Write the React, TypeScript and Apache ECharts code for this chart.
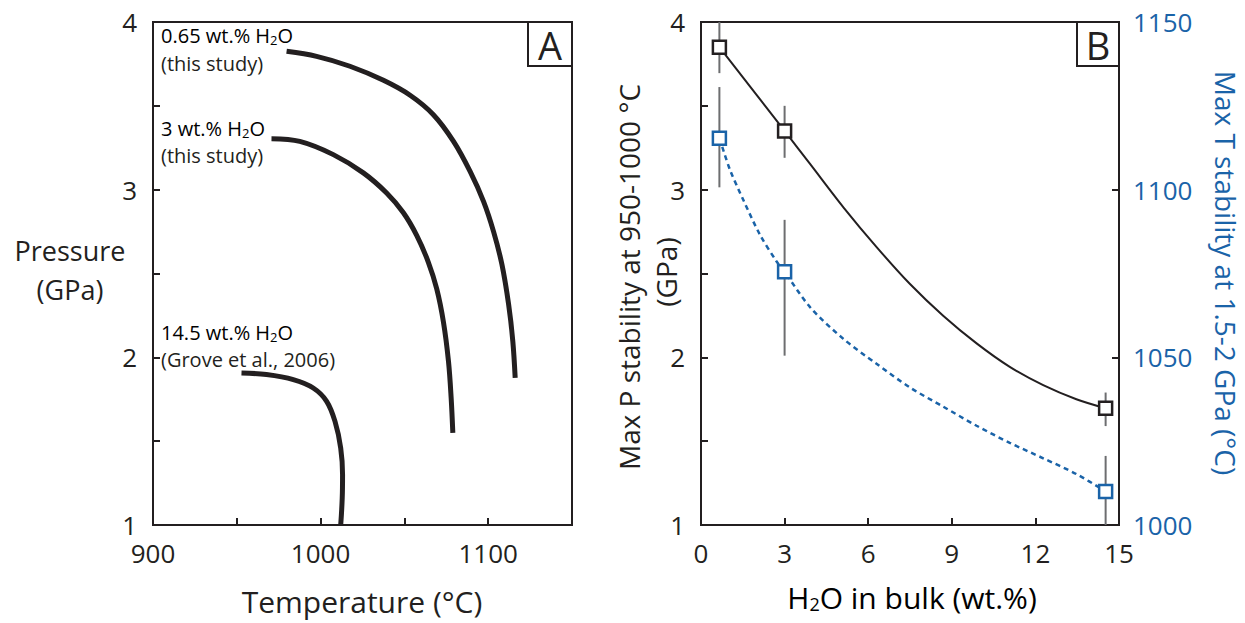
import React, { useEffect, useRef } from "react";
import * as echarts from "echarts";

const FONT = "Open Sans";
const INK = "#231f20";
const BLUE = "#1a63a8";
const GRAY = "#6d6e70";

// Panel A: phase boundary curves (Temperature °C, Pressure GPa)
const curve065: [number, number][] = [
  [979.7, 3.825], [997.6, 3.795], [1017.5, 3.736], [1037.5, 3.652], [1053.4, 3.563],
  [1067.3, 3.447], [1079.3, 3.288], [1089.2, 3.109], [1097.2, 2.93], [1103.2, 2.75],
  [1108.2, 2.553], [1112.2, 2.314], [1114.7, 2.095], [1116.1, 1.877],
];
const curve3: [number, number][] = [
  [970.7, 3.304], [987.6, 3.288], [1007.6, 3.209], [1025.5, 3.1], [1039.4, 2.98],
  [1049.4, 2.862], [1057.4, 2.726], [1064.3, 2.567], [1069.3, 2.408], [1073.3, 2.21],
  [1076.3, 1.976], [1077.9, 1.757], [1078.9, 1.549],
];
const curve145: [number, number][] = [
  [952.8, 1.907], [967.7, 1.897], [983.7, 1.867], [995.6, 1.817], [1003.6, 1.738],
  [1008.6, 1.618], [1012, 1.459], [1013.1, 1.3], [1012.9, 1.161], [1012, 1.0],
];

// Panel B: measured points
const waterContent = [0.66, 3, 14.52];
const maxP = [3.85, 3.35, 1.696];
const maxPLow = [3.695, 3.19, 1.59];
const maxPHigh = [4.0, 3.5, 1.79];
const maxT = [1115.3, 1075.5, 1010];
const maxTLow = [1100.7, 1050.5, 1000];
const maxTHigh = [1130.6, 1091, 1020.6];

// Panel B: fitted trend lines
const fitP: [number, number][] = [
  [0.66, 3.85], [3, 3.35], [3.92, 3.152], [5.11, 2.895], [6.31, 2.656],
  [7.5, 2.437], [8.69, 2.248], [9.89, 2.083], [11.08, 1.943], [12.28, 1.834],
  [13.47, 1.75], [14.52, 1.696],
];
const fitT: [number, number][] = [
  [0.66, 1115.3], [0.8, 1111.8], [1.04, 1105.9], [1.52, 1096.9], [2.12, 1086.5],
  [2.72, 1078.5], [3, 1075.5], [3.92, 1064.9], [5.11, 1055.5], [6.31, 1048],
  [7.5, 1041], [8.69, 1035.3], [9.89, 1029.6], [11.08, 1024.5], [12.28, 1019.9],
  [13.47, 1015.2], [14.52, 1010],
];

const xTicksA = [900, 1000, 1100];

export default function App() {
  const ref = useRef<HTMLDivElement>(null);
  useEffect(() => {
    if (!ref.current) return;
    const chart = echarts.init(ref.current, null, { renderer: "svg" });

    const axisLine = { show: true, lineStyle: { color: INK, width: 2 } };
    const tick = { show: true, inside: true, length: 7, lineStyle: { color: INK, width: 2 } };
    const lbl = { color: INK, fontFamily: FONT, fontSize: 26 };

    const errRender = (color: string) => (params: any, api: any) => {
      const x = api.value(0);
      const p1 = api.coord([x, api.value(1)]);
      const p2 = api.coord([x, api.value(2)]);
      return {
        type: "line",
        shape: { x1: p1[0], y1: p1[1], x2: p2[0], y2: p2[1] },
        style: { stroke: color, lineWidth: 2 },
      };
    };

    const richA = {
      a: { fontFamily: FONT, fontSize: 20, color: INK, lineHeight: 22 },
      s: { fontFamily: FONT, fontSize: 13, color: INK, lineHeight: 10, verticalAlign: "bottom" },
    };
    const annot = (prefix: string, second: string, y1: number, y2: number) => [
      { type: "text", x: 161, y: y1, style: { text: `{a|${prefix} H}{s|2}{a|O}`, rich: richA, verticalAlign: "middle" }, z: 10 },
      { type: "text", x: 161, y: y2, style: { text: second, fontFamily: FONT, fontSize: 20, fill: INK, verticalAlign: "middle" }, z: 10 },
    ];

    const option: any = {
      animation: false,
      backgroundColor: "#ffffff",
      grid: [
        { left: 153, top: 22, width: 419, height: 503, show: true, borderColor: INK, borderWidth: 2, backgroundColor: "transparent" },
        { left: 701, top: 22, width: 418, height: 503, show: true, borderColor: INK, borderWidth: 2, backgroundColor: "transparent" },
      ],
      xAxis: [
        {
          gridIndex: 0, type: "value", min: 900, max: 1150, interval: 50,
          axisLine, axisTick: tick, splitLine: { show: false },
          axisLabel: { ...lbl, margin: 17, lineHeight: 22, formatter: (v: number) => (xTicksA.includes(v) ? String(v) : "") },
        },
        {
          gridIndex: 1, type: "value", min: 0, max: 15, interval: 3,
          axisLine, axisTick: tick, splitLine: { show: false },
          axisLabel: { ...lbl, margin: 17, lineHeight: 22 },
        },
      ],
      yAxis: [
        {
          gridIndex: 0, type: "value", min: 1, max: 4, interval: 0.5,
          axisLine, axisTick: tick, splitLine: { show: false },
          axisLabel: { ...lbl, margin: 16, lineHeight: 18, formatter: (v: number) => (Number.isInteger(v) ? String(v) : "") },
        },
        {
          gridIndex: 1, type: "value", min: 1, max: 4, interval: 0.5,
          axisLine, axisTick: tick, splitLine: { show: false },
          axisLabel: { ...lbl, margin: 16, lineHeight: 18, formatter: (v: number) => (Number.isInteger(v) ? String(v) : "") },
        },
        {
          gridIndex: 1, type: "value", min: 1000, max: 1150, interval: 50, position: "right",
          axisLine, axisTick: tick, splitLine: { show: false },
          axisLabel: { ...lbl, color: BLUE, margin: 14, lineHeight: 18, formatter: (v: number) => String(v) },
        },
      ],
      series: [
        ...[curve065, curve3, curve145].map((d) => ({
          type: "line", xAxisIndex: 0, yAxisIndex: 0, data: d, smooth: 0.35,
          showSymbol: false, lineStyle: { color: INK, width: 5 }, z: 3,
        })),
        {
          type: "line", xAxisIndex: 1, yAxisIndex: 1, data: fitP, smooth: 0.3,
          showSymbol: false, lineStyle: { color: INK, width: 2 }, z: 2,
        },
        {
          type: "line", xAxisIndex: 1, yAxisIndex: 2, data: fitT, smooth: 0.3,
          showSymbol: false, lineStyle: { color: BLUE, width: 2.5, type: [5, 4] }, z: 2,
        },
        {
          type: "custom", xAxisIndex: 1, yAxisIndex: 1, z: 3,
          data: waterContent.map((x, i) => [x, maxPLow[i], maxPHigh[i]]),
          renderItem: errRender(GRAY),
        },
        {
          type: "custom", xAxisIndex: 1, yAxisIndex: 2, z: 3,
          data: waterContent.map((x, i) => [x, maxTLow[i], maxTHigh[i]]),
          renderItem: errRender(GRAY),
        },
        {
          type: "scatter", xAxisIndex: 1, yAxisIndex: 1, z: 5,
          data: waterContent.map((x, i) => [x, maxP[i]]),
          symbol: "rect", symbolSize: 13,
          itemStyle: { color: "#ffffff", borderColor: INK, borderWidth: 2.5, opacity: 1 },
        },
        {
          type: "scatter", xAxisIndex: 1, yAxisIndex: 2, z: 5,
          data: waterContent.map((x, i) => [x, maxT[i]]),
          symbol: "rect", symbolSize: 13,
          itemStyle: { color: "#ffffff", borderColor: BLUE, borderWidth: 2.5, opacity: 1 },
        },
      ],
      graphic: [
        // Panel letters
        { type: "rect", shape: { x: 528, y: 22, width: 44, height: 44 }, style: { fill: "#fff", stroke: INK, lineWidth: 2 }, z: 10 },
        { type: "text", x: 550, y: 45, style: { text: "A", fontFamily: FONT, fontSize: 38, fill: INK, align: "center", verticalAlign: "middle" }, z: 11 },
        { type: "rect", shape: { x: 1077, y: 22, width: 42, height: 44 }, style: { fill: "#fff", stroke: INK, lineWidth: 2 }, z: 10 },
        { type: "text", x: 1098, y: 45, style: { text: "B", fontFamily: FONT, fontSize: 38, fill: INK, align: "center", verticalAlign: "middle" }, z: 11 },
        // Curve annotations
        ...annot("0.65 wt.%", "(this study)", 35, 63),
        ...annot("3 wt.%", "(this study)", 128, 155),
        ...annot("14.5 wt.%", "(Grove et al., 2006)", 332, 359),
        // Axis titles panel A
        { type: "text", x: 70, y: 250, style: { text: "Pressure", fontFamily: FONT, fontSize: 27, fill: INK, align: "center", verticalAlign: "middle" } },
        { type: "text", x: 70, y: 289, style: { text: "(GPa)", fontFamily: FONT, fontSize: 27, fill: INK, align: "center", verticalAlign: "middle" } },
        { type: "text", x: 362, y: 601, style: { text: "Temperature (°C)", fontFamily: FONT, fontSize: 30, fill: INK, align: "center", verticalAlign: "middle" } },
        // Axis titles panel B
        {
          type: "text", x: 912, y: 597,
          style: {
            text: "{a|H}{s|2}{a|O in bulk (wt.%)}", align: "center", verticalAlign: "middle",
            rich: {
              a: { fontFamily: FONT, fontSize: 30, color: INK, lineHeight: 32 },
              s: { fontFamily: FONT, fontSize: 18, color: INK, lineHeight: 14, verticalAlign: "bottom" },
            },
          },
        },
        { type: "text", x: 629, y: 277, rotation: Math.PI / 2, style: { text: "Max P stability at 950-1000 °C", fontFamily: FONT, fontSize: 28, lineHeight: 30, fill: INK, align: "center", verticalAlign: "middle" } },
        { type: "text", x: 666, y: 272, rotation: Math.PI / 2, style: { text: "(GPa)", fontFamily: FONT, fontSize: 28, lineHeight: 30, fill: INK, align: "center", verticalAlign: "middle" } },
        { type: "text", x: 1226, y: 273, rotation: -Math.PI / 2, style: { text: "Max T stability at 1.5-2 GPa (°C)", fontFamily: FONT, fontSize: 28, lineHeight: 28, fill: BLUE, align: "center", verticalAlign: "middle" } },
      ],
    };
    chart.setOption(option);
    return () => chart.dispose();
  }, []);
  return <div ref={ref} style={{ position: "fixed", left: 0, top: 0, width: 1245, height: 623, background: "#fff" }} />;
}
